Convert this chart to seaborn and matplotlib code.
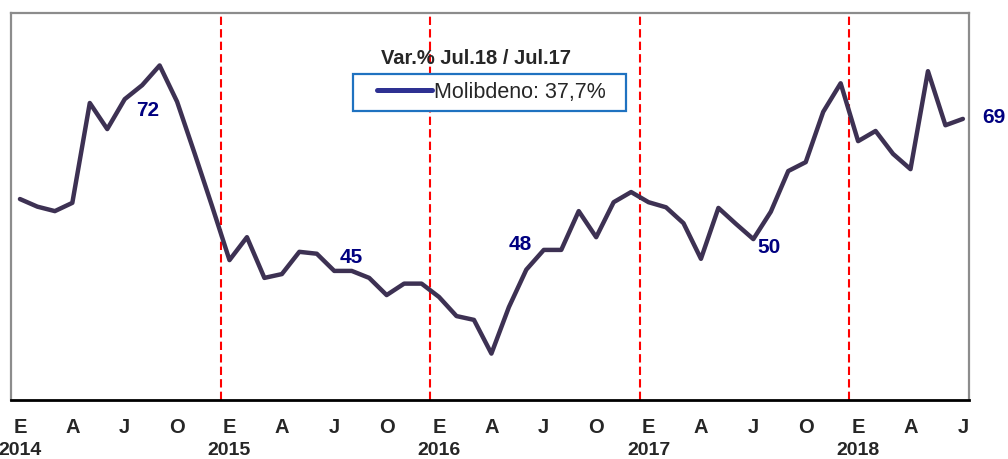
import numpy as np
import pandas as pd
import matplotlib
matplotlib.use("Agg")
import matplotlib.pyplot as plt
import matplotlib.transforms as mtransforms
import seaborn as sns
from matplotlib.lines import Line2D
from matplotlib.legend_handler import HandlerLine2D

# 1. Data: monthly molybdenum price, Jan 2014 - Jul 2018
precio = [
    56.3, 55.1, 54.4, 55.7, 71.4, 67.3, 72.0, 74.2, 77.3, 71.6, 63.5, 55.2,  # 2014
    46.7, 50.3, 43.9, 44.5, 48.0, 47.7, 45.0, 45.0, 43.9, 41.2, 43.0, 43.0,  # 2015
    40.9, 37.9, 37.3, 32.0, 39.3, 45.2, 48.3, 48.3, 54.4, 50.3, 55.8, 57.4,  # 2016
    55.8, 55.0, 52.5, 46.9, 54.9, 52.4, 50.0, 54.3, 60.7, 62.1, 70.0, 74.5,  # 2017
    65.4, 67.0, 63.4, 61.0, 76.4, 67.9, 68.9,                                # 2018
]
meses_letra = ["E", "A", "J", "O"]
anios = ["2014", "2015", "2016", "2017", "2018"]
meses_etiqueta = [6, 18, 30, 42, 54]  # July of each year
offsets_etiqueta = [(16.6, -7.9), (12.2, 9.4), (-16.6, 3.6), (11.5, -5.8), (22.3, 0.7)]
leyenda = "Molibdeno: 37,7%"
titulo_leyenda = "Var.% Jul.18 / Jul.17"

df = pd.DataFrame({"mes": np.arange(len(precio)), "precio": precio})

# 2. Style
sns.set_style("white")
plt.rcParams["font.family"] = ["Liberation Sans", "DejaVu Sans"]

fig = plt.figure(figsize=(10.08, 4.59), dpi=100)
ax = fig.add_axes([0.0106, 0.1285, 0.9507, 0.8425])

# red dashed year separators
for i in range(1, len(anios)):
    ax.axvline(12 * i - 0.5, color="red", lw=1.5, ls=(0, (4, 2)), zorder=1)

sns.lineplot(data=df, x="mes", y="precio", color="#3D3153", lw=3.2, ax=ax, zorder=3)

ax.set_xlim(-0.53, 54.35)
ax.set_ylim(24.7, 85.5)
ax.set_yticks([])
ax.set_xlabel("")
ax.set_ylabel("")

ticks = list(range(0, len(precio), 3))
ax.set_xticks(ticks)
ax.set_xticklabels([meses_letra[(t // 3) % 4] for t in ticks], fontsize=14.5, fontweight="bold")
ax.tick_params(axis="x", length=0, pad=13)

trans = mtransforms.blended_transform_factory(ax.transData, ax.transAxes)
for i, a in enumerate(anios):
    ax.text(12 * i, -0.13, a, transform=trans, ha="center", va="center",
            fontsize=14, fontweight="bold")

# spines
for s in ["top", "left", "right"]:
    ax.spines[s].set_color("#8C8C8C")
    ax.spines[s].set_linewidth(1.6)
ax.spines["bottom"].set_color("black")
ax.spines["bottom"].set_linewidth(2)

# 3. Data labels (July values)
for m, off in zip(meses_etiqueta, offsets_etiqueta):
    ax.annotate(f"{precio[m]:.0f}", xy=(m, precio[m]), xytext=off, textcoords="offset points",
                ha="center", va="center", fontsize=15, fontweight="bold", color="#000080",
                annotation_clip=False, zorder=4)

# 4. Legend with title above the box
fig.text(476 / 1008, 1 - 59 / 459, titulo_leyenda, ha="center", va="center",
         fontsize=14.5, fontweight="bold")
handle = Line2D([], [], color="#2E3192", lw=3.6, solid_capstyle="round")
leg = ax.legend([handle], [leyenda + "  "], loc="center",
                bbox_to_anchor=(489.5 / 1008, 1 - 92.5 / 459), bbox_transform=fig.transFigure,
                fontsize=15.5, frameon=True, fancybox=False, borderpad=0.35,
                handlelength=3.3, handletextpad=0.1,
                handler_map={handle: HandlerLine2D(xpad=0.75)})
leg.get_frame().set_edgecolor("#1F72C0")
leg.get_frame().set_linewidth(1.6)
leg.get_frame().set_alpha(1)

fig.savefig("out.png", dpi=100)
